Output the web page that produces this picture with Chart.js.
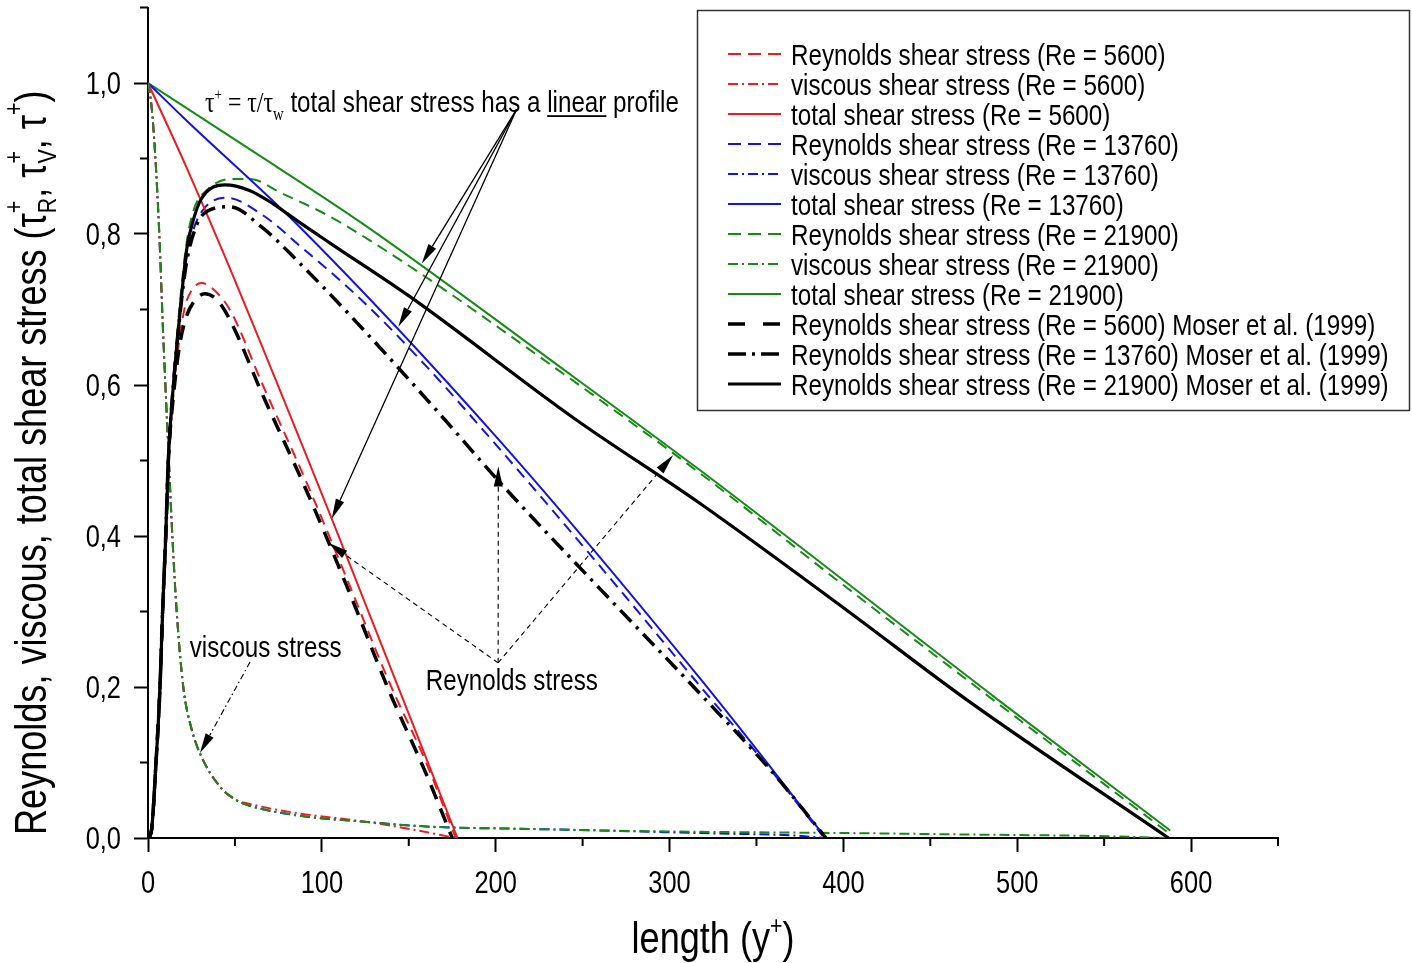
<!DOCTYPE html>
<html>
<head>
<meta charset="utf-8">
<title>Shear stress profiles</title>
<script src="https://cdn.jsdelivr.net/npm/chart.js@4.4.1/dist/chart.umd.min.js"></script>
<style>
  html, body { margin: 0; padding: 0; background: #fff; }
  #wrap { width: 1412px; height: 963px; }
</style>
</head>
<body>
<div id="wrap"><canvas id="c" width="1412" height="963"></canvas></div>
<script>
// ---------- axis ticks ----------
const xTickValues = [0, 100, 200, 300, 400, 500, 600];
const xTickLabels = ['0', '100', '200', '300', '400', '500', '600'];
const yTickValues = [0, 0.2, 0.4, 0.6, 0.8, 1.0];
const yTickLabels = ['0,0', '0,2', '0,4', '0,6', '0,8', '1,0'];
const xMinorTicks = [50, 150, 250, 350, 450, 550, 650];
const yMinorTicks = [0.1, 0.3, 0.5, 0.7, 0.9, 1.1];

// ---------- Re = 5600 ----------
const reyn5600X = [0, 2, 4.6, 6.9, 8.4, 10.2, 11.7, 14.6, 18, 21.3, 25, 30.8, 36, 47, 66, 91, 115, 139, 160, 177];
const reyn5600Y = [0, 0.01, 0.1, 0.2, 0.3, 0.4, 0.5, 0.59, 0.66, 0.704, 0.725, 0.735, 0.73, 0.70, 0.60, 0.472, 0.34, 0.205, 0.10, 0];
const visc5600X = [0, 2, 4, 6.5, 8.4, 10, 12, 14, 16.5, 20.3, 25, 29.9, 41.4, 51, 56.8, 85.5, 124, 153, 177];
const visc5600Y = [1, 0.97, 0.91, 0.8, 0.686, 0.6, 0.5, 0.4, 0.3, 0.2, 0.145, 0.112, 0.068, 0.05, 0.046, 0.033, 0.022, 0.011, 0];
const total5600X = [0, 22, 45, 110, 178];
const total5600Y = [1, 0.889, 0.766, 0.398, 0];

// ---------- Re = 13760 ----------
const reyn13760X = [0, 2, 4.6, 6.9, 8.4, 10.2, 11.7, 14.6, 18, 22, 26, 32, 45, 66, 87, 124, 160, 202, 260, 318, 360, 388];
const reyn13760Y = [0, 0.01, 0.1, 0.2, 0.3, 0.4, 0.5, 0.6, 0.69, 0.765, 0.805, 0.833, 0.848, 0.825, 0.785, 0.71, 0.625, 0.516, 0.36, 0.2, 0.085, 0.003];
const visc13760X = [0, 2, 4, 6.5, 8.4, 10, 12, 14, 16.5, 20.3, 25, 29.9, 41.4, 51, 56.8, 85.5, 124, 162, 220, 260, 326, 370, 390];
const visc13760Y = [1, 0.97, 0.91, 0.8, 0.686, 0.6, 0.5, 0.4, 0.3, 0.2, 0.145, 0.112, 0.068, 0.05, 0.044, 0.030, 0.0216, 0.015, 0.012, 0.010, 0.006, 0.0035, 0];
const total13760X = [0, 20, 87, 202, 318, 390];
const total13760Y = [1, 0.955, 0.81, 0.527, 0.21, 0];

// ---------- Re = 21900 ----------
const reyn21900X = [0, 2, 4.6, 6.9, 8.4, 10.2, 11.7, 14.6, 18, 22, 26, 33.7, 49, 58.7, 76, 104.7, 150.7, 237, 317.6, 400, 489, 588];
const reyn21900Y = [0, 0.01, 0.1, 0.2, 0.3, 0.4, 0.5, 0.6, 0.7, 0.785, 0.83, 0.858, 0.873, 0.873, 0.855, 0.823, 0.757, 0.618, 0.483, 0.335, 0.178, 0.005];
const visc21900X = [0, 2, 4, 6.5, 8.4, 10, 12, 14, 16.5, 20.3, 25, 29.9, 41.4, 51, 56.8, 85.5, 124, 162, 220, 260, 326, 400, 480, 546, 586];
const visc21900Y = [1, 0.97, 0.91, 0.8, 0.686, 0.6, 0.5, 0.4, 0.3, 0.2, 0.145, 0.112, 0.068, 0.05, 0.044, 0.030, 0.0216, 0.015, 0.012, 0.010, 0.008, 0.0066, 0.0044, 0.0026, 0];
const total21900X = [0, 60, 122, 237, 317.6, 489, 588];
const total21900Y = [1, 0.91, 0.816, 0.624, 0.487, 0.183, 0.01];

// ---------- DNS reference, Moser et al. (1999) ----------
const moser5600X = [0, 2, 4.6, 6.9, 8.4, 10.2, 11.7, 14.6, 18, 22, 27, 32.8, 40, 47.2, 66.3, 91, 115, 139.2, 160, 175];
const moser5600Y = [0, 0.01, 0.1, 0.2, 0.3, 0.4, 0.5, 0.585, 0.65, 0.69, 0.712, 0.721, 0.712, 0.686, 0.585, 0.461, 0.33, 0.192, 0.085, 0];
const moser13760X = [0, 2, 4.6, 6.9, 8.4, 10.2, 11.7, 14.6, 18, 22, 28, 34, 47, 66, 87, 120, 170, 202, 260, 318, 360, 390];
const moser13760Y = [0, 0.01, 0.1, 0.2, 0.3, 0.4, 0.5, 0.6, 0.685, 0.76, 0.812, 0.83, 0.836, 0.808, 0.762, 0.683, 0.556, 0.472, 0.33, 0.19, 0.085, 0];
const moser21900X = [0, 2, 4.6, 6.9, 8.4, 10.2, 11.7, 14.6, 18, 22.2, 26, 30.8, 44.3, 58, 72, 85.5, 104.7, 150.7, 245, 317.6, 400, 471, 587];
const moser21900Y = [0, 0.01, 0.1, 0.2, 0.3, 0.4, 0.5, 0.6, 0.686, 0.779, 0.818, 0.847, 0.865, 0.858, 0.84, 0.818, 0.788, 0.717, 0.556, 0.443, 0.305, 0.183, 0];

// ---------- styles ----------
const RED = '#ec1c24', BLUE = '#1414e0', GREEN = '#178a17', BLACK = '#000000';
const DASH = [11, 7], DASHDOT = [10, 4, 2, 4], BDASH = [15, 10], BDASHDOT = [16, 7, 3, 7];
const SANS = '"Liberation Sans", Arial, Helvetica, sans-serif';
const SERIF = '"Liberation Serif", "Times New Roman", serif';
const NARROW = 0.82; // condensed lettering

const pts = (xs, ys) => xs.map((x, i) => ({ x, y: ys[i] }));

const series = [
  { label: 'Reynolds shear stress (Re = 5600)', data: pts(reyn5600X, reyn5600Y), borderColor: RED, borderDash: DASH, borderWidth: 2, order: 2 },
  { label: 'viscous shear stress (Re = 5600)', data: pts(visc5600X, visc5600Y), borderColor: RED, borderDash: DASHDOT, borderWidth: 2, order: 2 },
  { label: 'total shear stress (Re = 5600)', data: pts(total5600X, total5600Y), borderColor: RED, borderDash: [], borderWidth: 2, order: 2 },
  { label: 'Reynolds shear stress (Re = 13760)', data: pts(reyn13760X, reyn13760Y), borderColor: BLUE, borderDash: DASH, borderWidth: 2, order: 2 },
  { label: 'viscous shear stress (Re = 13760)', data: pts(visc13760X, visc13760Y), borderColor: BLUE, borderDash: DASHDOT, borderWidth: 2, order: 2 },
  { label: 'total shear stress (Re = 13760)', data: pts(total13760X, total13760Y), borderColor: BLUE, borderDash: [], borderWidth: 2, order: 2 },
  { label: 'Reynolds shear stress (Re = 21900)', data: pts(reyn21900X, reyn21900Y), borderColor: GREEN, borderDash: DASH, borderWidth: 2, order: 2 },
  { label: 'viscous shear stress (Re = 21900)', data: pts(visc21900X, visc21900Y), borderColor: GREEN, borderDash: DASHDOT, borderWidth: 2, order: 1 },
  { label: 'total shear stress (Re = 21900)', data: pts(total21900X, total21900Y), borderColor: GREEN, borderDash: [], borderWidth: 2, order: 2 },
  { label: 'Reynolds shear stress (Re = 5600) Moser et al. (1999)', data: pts(moser5600X, moser5600Y), borderColor: BLACK, borderDash: BDASH, borderWidth: 3.5, order: 0 },
  { label: 'Reynolds shear stress (Re = 13760) Moser et al. (1999)', data: pts(moser13760X, moser13760Y), borderColor: BLACK, borderDash: BDASHDOT, borderWidth: 3.5, order: 0 },
  { label: 'Reynolds shear stress (Re = 21900) Moser et al. (1999)', data: pts(moser21900X, moser21900Y), borderColor: BLACK, borderDash: [], borderWidth: 3.2, order: 0 }
];

// ---------- text helpers ----------
const f = (size, fam) => size + 'px ' + (fam || SANS);

function layoutRun(ctx, parts) {
  let x = 0, hold = null;
  const items = [];
  for (const p of parts) {
    ctx.font = p.font;
    const w = ctx.measureText(p.t).width;
    items.push(Object.assign({}, p, { x, w }));
    if (p.hold) { hold = { x, w }; }
    else if (hold) { x = hold.x + Math.max(hold.w, w); hold = null; }
    else { x += w; }
  }
  return { items, width: x };
}

function drawRun(ctx, parts, x, y, align) {
  ctx.save();
  const run = layoutRun(ctx, parts);
  const W = run.width * NARROW;
  const x0 = align === 'center' ? x - W / 2 : align === 'right' ? x - W : x;
  ctx.translate(x0, y);
  ctx.scale(NARROW, 1);
  ctx.fillStyle = '#000';
  ctx.textAlign = 'left';
  ctx.textBaseline = 'alphabetic';
  for (const it of run.items) {
    ctx.font = it.font;
    ctx.fillText(it.t, it.x, it.dy || 0);
    if (it.u) ctx.fillRect(it.x, (it.dy || 0) + 3.5, it.w, 1.8);
  }
  ctx.restore();
  return W;
}

function arrow(ctx, x1, y1, x2, y2, o) {
  const a = Math.atan2(y2 - y1, x2 - x1);
  const hl = o.head || 20, hw = o.hw || 4.5;
  const bx = x2 - Math.cos(a) * hl, by = y2 - Math.sin(a) * hl;
  ctx.save();
  ctx.strokeStyle = '#000';
  ctx.lineWidth = o.w || 1.2;
  ctx.setLineDash(o.dash || []);
  ctx.beginPath(); ctx.moveTo(x1, y1); ctx.lineTo(bx, by); ctx.stroke();
  ctx.setLineDash([]);
  ctx.fillStyle = '#000';
  ctx.beginPath();
  ctx.moveTo(x2, y2);
  ctx.lineTo(bx + Math.sin(a) * hw, by - Math.cos(a) * hw);
  ctx.lineTo(bx - Math.sin(a) * hw, by + Math.cos(a) * hw);
  ctx.closePath(); ctx.fill();
  ctx.restore();
}

// ---------- plugins ----------
const minorTicks = {
  id: 'minorTicks',
  afterDraw(chart) {
    const { ctx, scales: { x, y }, chartArea: ca } = chart;
    ctx.save();
    ctx.strokeStyle = '#000'; ctx.lineWidth = 2;
    ctx.beginPath();
    xMinorTicks.forEach(v => { const p = x.getPixelForValue(v); ctx.moveTo(p, ca.bottom); ctx.lineTo(p, ca.bottom + 8); });
    yMinorTicks.forEach(v => { const p = y.getPixelForValue(v); ctx.moveTo(ca.left - 8, p); ctx.lineTo(ca.left, p); });
    ctx.stroke();
    ctx.restore();
  }
};

const axisText = {
  id: 'axisText',
  afterDraw(chart) {
    const { ctx, scales: { x, y }, chartArea: ca } = chart;
    xTickValues.forEach((v, i) => drawRun(ctx, [{ t: xTickLabels[i], font: f(31) }], x.getPixelForValue(v), ca.bottom + 55, 'center'));
    yTickValues.forEach((v, i) => drawRun(ctx, [{ t: yTickLabels[i], font: f(31) }], ca.left - 27, y.getPixelForValue(v) + 11, 'right'));

    // x title
    drawRun(ctx, [
      { t: 'length (y', font: f(44) },
      { t: '+', font: f(26), dy: -19 },
      { t: ')', font: f(44) }
    ], (ca.left + ca.right) / 2, 953, 'center');

    // y title (rotated)
    ctx.save();
    ctx.translate(46, (ca.top + ca.bottom) / 2 + 40);
    ctx.rotate(-Math.PI / 2);
    drawRun(ctx, [
      { t: 'Reynolds, viscous, total shear stress (', font: f(44) },
      { t: 'τ', font: f(44) },
      { t: '+', font: f(26), dy: -24, hold: true },
      { t: 'R', font: f(26), dy: 10 },
      { t: ', ', font: f(44) },
      { t: 'τ', font: f(44) },
      { t: '+', font: f(26), dy: -24, hold: true },
      { t: 'V', font: f(26), dy: 10 },
      { t: ', ', font: f(44) },
      { t: 'τ', font: f(44) },
      { t: '+', font: f(26), dy: -24 },
      { t: ')', font: f(44) }
    ], 0, 0, 'center');
    ctx.restore();
  }
};

const notes = {
  id: 'notes',
  afterDatasetsDraw(chart) {
    const { ctx, scales: { x, y } } = chart;
    const P = (vx, vy) => [x.getPixelForValue(vx), y.getPixelForValue(vy)];

    // linear total-stress note
    const [tx, ty] = P(32.8, 0.962);
    drawRun(ctx, [
      { t: 'τ', font: f(29, SERIF) },
      { t: '+', font: f(16, SERIF), dy: -12 },
      { t: ' = τ/τ', font: f(29, SERIF) },
      { t: 'w', font: f(18, SERIF), dy: 8 },
      { t: ' total shear stress has a ', font: f(29.5) },
      { t: 'linear', font: f(29.5), u: true },
      { t: ' profile', font: f(29.5) }
    ], tx, ty, 'left');
    const o1 = P(212, 0.965);
    [[157.5, 0.761], [144, 0.677], [105.7, 0.423]].forEach(([a, b]) => {
      const t = P(a, b); arrow(ctx, o1[0], o1[1], t[0], t[1], { w: 1.3 });
    });

    // viscous note
    const [vx, vy] = P(24, 0.24);
    drawRun(ctx, [{ t: 'viscous stress', font: f(29.5) }], vx, vy, 'left');
    const o2 = P(58.7, 0.233), t2 = P(29.9, 0.1126);
    arrow(ctx, o2[0], o2[1], t2[0], t2[1], { w: 1.1, dash: [6, 3, 1.5, 3] });

    // Reynolds note
    const [rx, ry] = P(159.8, 0.196);
    drawRun(ctx, [{ t: 'Reynolds stress', font: f(29.5) }], rx, ry, 'left');
    const o3 = P(201.4, 0.232);
    [[103.7, 0.391], [201.5, 0.492], [302, 0.507]].forEach(([a, b]) => {
      const t = P(a, b); arrow(ctx, o3[0], o3[1], t[0], t[1], { w: 1.1, dash: [5, 4] });
    });
  }
};

const legendBox = {
  id: 'legendBox',
  afterDraw(chart) {
    const ctx = chart.ctx;
    ctx.save();
    ctx.fillStyle = '#fff';
    ctx.fillRect(697, 10, 713, 401);
    ctx.strokeStyle = '#333'; ctx.lineWidth = 1.5;
    ctx.strokeRect(697.5, 10.5, 712, 400);
    chart.data.datasets.forEach((ds, i) => {
      const cy = 54 + i * 30;
      ctx.save();
      ctx.strokeStyle = ds.borderColor;
      ctx.lineWidth = ds.borderWidth;
      ctx.setLineDash(ds.legendDash || ds.borderDash || []);
      ctx.beginPath(); ctx.moveTo(728, cy); ctx.lineTo(781, cy); ctx.stroke();
      ctx.restore();
      drawRun(ctx, [{ t: ds.label, font: f(29.5) }], 791, cy + 10.5, 'left');
    });
    ctx.restore();
  }
};

// ---------- chart ----------
const legendDashes = [[13, 7], [10, 4, 2, 4], null, [13, 7], [10, 4, 2, 4], null, [13, 7], [10, 4, 2, 4], null, [17, 18], [18, 6, 3, 6], null];

new Chart(document.getElementById('c'), {
  type: 'scatter',
  data: {
    datasets: series.map((s, i) => Object.assign({}, s, {
      showLine: true,
      fill: false,
      pointRadius: 0,
      pointHoverRadius: 0,
      cubicInterpolationMode: 'monotone',
      legendDash: legendDashes[i] || []
    }))
  },
  options: {
    responsive: false,
    animation: false,
    events: [],
    layout: { padding: { top: 7.5, right: 134, left: 0, bottom: 0 } },
    plugins: { legend: { display: false }, tooltip: { enabled: false } },
    scales: {
      x: {
        type: 'linear', min: 0, max: 650,
        ticks: { stepSize: 100, display: false, includeBounds: false },
        grid: { drawOnChartArea: false, drawTicks: true, tickLength: 14, tickWidth: 2, tickColor: '#000' },
        border: { display: true, color: '#000', width: 2 },
        afterFit: s => { s.height = 125; }
      },
      y: {
        type: 'linear', min: 0, max: 1.1,
        ticks: { stepSize: 0.2, display: false, includeBounds: false },
        grid: { drawOnChartArea: false, drawTicks: true, tickLength: 14, tickWidth: 2, tickColor: '#000' },
        border: { display: true, color: '#000', width: 2 },
        afterFit: s => { s.width = 148; }
      }
    }
  },
  plugins: [notes, minorTicks, axisText, legendBox]
});
</script>
</body>
</html>
